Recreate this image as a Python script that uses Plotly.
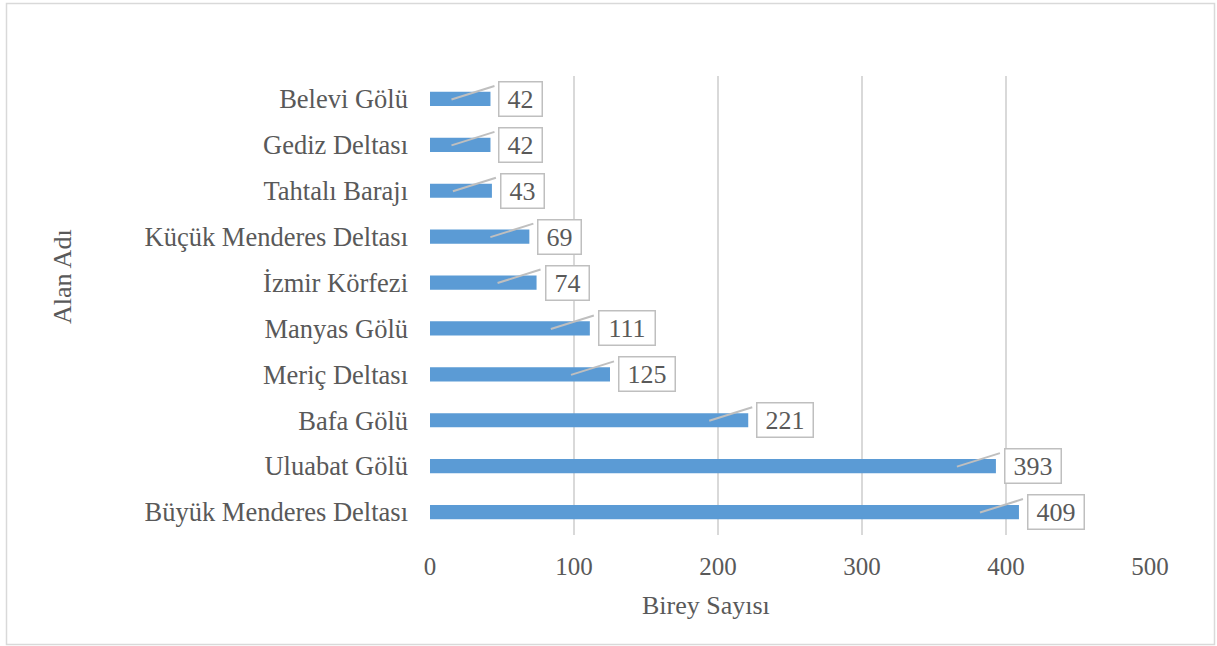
import plotly.graph_objects as go

# data, bottom to top
alanlar = ["Büyük Menderes Deltası", "Uluabat Gölü", "Bafa Gölü", "Meriç Deltası",
           "Manyas Gölü", "İzmir Körfezi", "Küçük Menderes Deltası", "Tahtalı Barajı",
           "Gediz Deltası", "Belevi Gölü"]
birey = [409, 393, 221, 125, 111, 74, 69, 43, 42, 42]
x_ticks = [0, 100, 200, 300, 400, 500]

W, H = 1217, 646
# plot area in window pixels: x 430..1150, y 76..535
L, R, T, B = 430, 1217 - 1150, 76, 646 - 535
FONT = "Liberation Serif"
GRAY = "#595959"


def px(x):
    return (x - L) / (W - L - R)


def py(y):
    return 1 - (y - T) / (H - T - B)


fig = go.Figure()
fig.add_trace(go.Bar(
    x=birey, y=alanlar, orientation="h",
    marker=dict(color="#5B9BD5", line_width=0),
    width=0.31, showlegend=False, hoverinfo="x+y",
))

xscale = (W - L - R) / 500.0   # px per unit
yscale = (H - T - B) / len(alanlar)

shapes = []
annotations = []
for i, (a, v) in enumerate(zip(alanlar, birey)):
    # leader line from inside the bar to the label box corner
    shapes.append(dict(
        type="line", xref="x", yref="y",
        x0=v - 39 / xscale, y0=i - 0.5 / yscale,
        x1=v + 4 / xscale, y1=i + 13 / yscale,
        line=dict(color="#BFBFBF", width=2), layer="above",
    ))
    t = str(v)
    annotations.append(dict(
        x=v, y=i, xref="x", yref="y", text=t, showarrow=False,
        xanchor="left", yanchor="middle", xshift=8,
        font=dict(family=FONT, size=26, color=GRAY),
        bordercolor="#BFBFBF", borderwidth=1.5, borderpad=2,
        bgcolor="white", width=len(t) * 13 + 12, align="center",
    ))

# outer frame
shapes.append(dict(type="rect", xref="paper", yref="paper",
                   x0=px(6.5), x1=px(1214.5), y0=py(3.5), y1=py(644.5),
                   line=dict(color="#D9D9D9", width=1.5), fillcolor="rgba(0,0,0,0)"))

annotations.append(dict(x=px(62), y=py(277), xref="paper", yref="paper",
                        xanchor="center", yanchor="middle",
                        text="Alan Adı", textangle=-90, showarrow=False,
                        font=dict(family=FONT, size=26, color=GRAY)))
annotations.append(dict(x=px(706), y=py(605), xref="paper", yref="paper",
                        xanchor="center", yanchor="middle",
                        text="Birey Sayısı", showarrow=False,
                        font=dict(family=FONT, size=26, color=GRAY)))

fig.update_layout(
    width=W, height=H,
    margin=dict(l=L, r=R, t=T, b=B),
    paper_bgcolor="white", plot_bgcolor="white",
    shapes=shapes, annotations=annotations,
    font=dict(family=FONT, color=GRAY),
)
fig.update_xaxes(
    range=[0, 500], tickvals=x_ticks, showgrid=True, gridcolor="#D9D9D9",
    gridwidth=1.5, zeroline=False, showline=False,
    tickfont=dict(family=FONT, size=25, color=GRAY), ticklabelstandoff=14,
)
fig.update_yaxes(
    type="category", categoryorder="array", categoryarray=alanlar,
    range=[-0.5, len(alanlar) - 0.5], showgrid=False, zeroline=False, showline=False,
    tickfont=dict(family=FONT, size=26.5, color=GRAY), ticklabelstandoff=21,
)

# drop the default page margin so the figure sits at the window corner
fig.write_html("out.html", config={"displayModeBar": False},
               post_script="document.body.style.margin='0';document.body.style.overflow='hidden';")
